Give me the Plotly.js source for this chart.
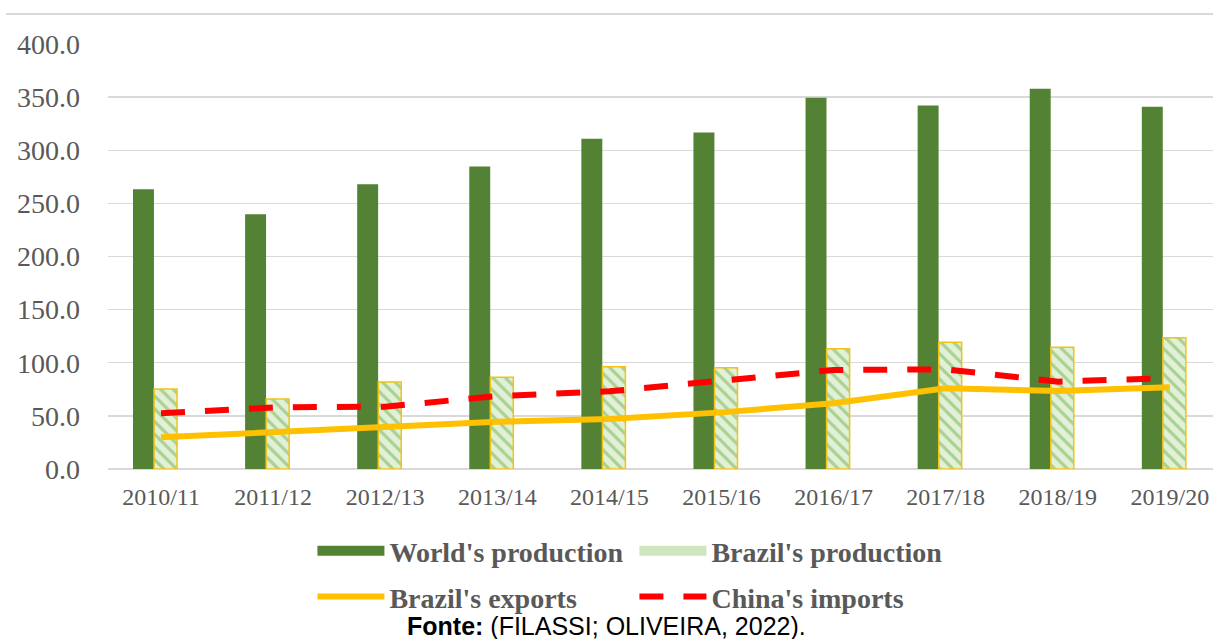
<!DOCTYPE html>
<html>
<head>
<meta charset="utf-8">
<script src="https://cdn.plot.ly/plotly-3.0.1.min.js"></script>
<style>
  html, body { margin: 0; padding: 0; background: #ffffff; }
  #chart { width: 1213px; height: 639px; }
</style>
</head>
<body>
<div id="chart"></div>
<script>
const categories = ["2010/11","2011/12","2012/13","2013/14","2014/15","2015/16","2016/17","2017/18","2018/19","2019/20"];
const worldProduction = [263.4, 239.7, 267.9, 284.8, 310.8, 316.6, 349.4, 342.2, 357.8, 340.9];
const brazilProduction = [75.3, 65.9, 81.9, 86.3, 96.3, 95.4, 113.2, 119.2, 114.5, 123.6];
const brazilExports = [29.8, 35.1, 39.2, 44.5, 47.0, 53.3, 61.8, 76.0, 73.4, 76.9];
const chinaImports = [52.4, 58.0, 58.7, 68.7, 73.1, 83.1, 93.2, 93.8, 82.2, 85.6];
const yTicks = [0, 50, 100, 150, 200, 250, 300, 350, 400];

const serif = "Liberation Serif, Times New Roman, serif";
const gray = "#595959";

const traces = [
  {
    type: "bar", name: "World's production", x: categories, y: worldProduction,
    offset: -0.25, width: 0.187,
    marker: { color: "#548235", line: { width: 0 } },
    showlegend: false, hoverinfo: "x+y"
  },
  {
    type: "bar", name: "Brazil's production", x: categories, y: brazilProduction,
    offset: -0.062, width: 0.205,
    marker: {
      color: "#e2f0d9",
      line: { color: "#f2c314", width: 1.5 },
      pattern: { shape: "\\", fgcolor: "#a9d18e", bgcolor: "#e2f0d9", size: 9, solidity: 0.35, fillmode: "replace" }
    },
    showlegend: false, hoverinfo: "x+y"
  },
  {
    type: "scatter", mode: "lines", name: "Brazil's exports", x: categories, y: brazilExports,
    line: { color: "#ffc000", width: 6 },
    legend: "legend2", hoverinfo: "x+y"
  },
  {
    type: "scatter", mode: "lines", name: "China's imports", x: categories, y: chinaImports,
    line: { color: "#ff0000", width: 6, dash: "24px,20px" },
    legend: "legend2", hoverinfo: "x+y"
  },
  // legend keys for the two bar series (no marks of their own)
  {
    type: "scatter", mode: "lines", name: "World's production", x: [null], y: [null],
    line: { color: "#548235", width: 13 }, legend: "legend", hoverinfo: "skip"
  },
  {
    type: "scatter", mode: "lines", name: "Brazil's production", x: [null], y: [null],
    line: { color: "#cfe5bf", width: 13 }, legend: "legend", hoverinfo: "skip"
  }
];

const legendBase = {
  orientation: "h", x: 0.185, xanchor: "left", yanchor: "middle",
  entrywidth: 240, entrywidthmode: "pixels", itemwidth: 67,
  font: { family: serif, size: 28, color: gray, weight: "bold" },
  bgcolor: "rgba(0,0,0,0)", traceorder: "normal"
};

const layout = {
  width: 1213, height: 639,
  margin: { l: 108, r: 0, t: 44, b: 170 },
  paper_bgcolor: "#ffffff", plot_bgcolor: "#ffffff",
  barmode: "overlay",
  showlegend: true,
  xaxis: {
    type: "category",
    range: [-0.473, 9.385],
    showgrid: false, zeroline: false, showline: false,
    ticks: "", ticklabelstandoff: 11,
    tickfont: { family: serif, size: 24, color: gray },
    fixedrange: true
  },
  yaxis: {
    range: [0, 400],
    tickvals: yTicks, tickformat: ".1f",
    showgrid: true, gridcolor: "#d9d9d9", gridwidth: 1.3,
    zeroline: true, zerolinecolor: "#d9d9d9", zerolinewidth: 1.3,
    showline: false, ticks: "", ticklabelstandoff: 27,
    tickfont: { family: serif, size: 28, color: gray },
    fixedrange: true
  },
  legend: Object.assign({}, legendBase, { y: -0.193 }),
  legend2: Object.assign({}, legendBase, { y: -0.301 }),
  shapes: [
    { type: "line", xref: "paper", yref: "paper", x0: -0.0923, x1: 1.0, y0: 1.0706, y1: 1.0706,
      line: { color: "#d9d9d9", width: 2 } }
  ],
  annotations: [
    { xref: "paper", yref: "paper", x: 0.4507, y: -0.369, xanchor: "center", yanchor: "middle",
      showarrow: false,
      text: "<b>Fonte:</b> (FILASSI; OLIVEIRA, 2022).",
      font: { family: "Liberation Sans, Arial, sans-serif", size: 25, color: "#000000" } }
  ]
};

Plotly.newPlot("chart", traces, layout, { displayModeBar: false, staticPlot: true });
</script>
</body>
</html>
